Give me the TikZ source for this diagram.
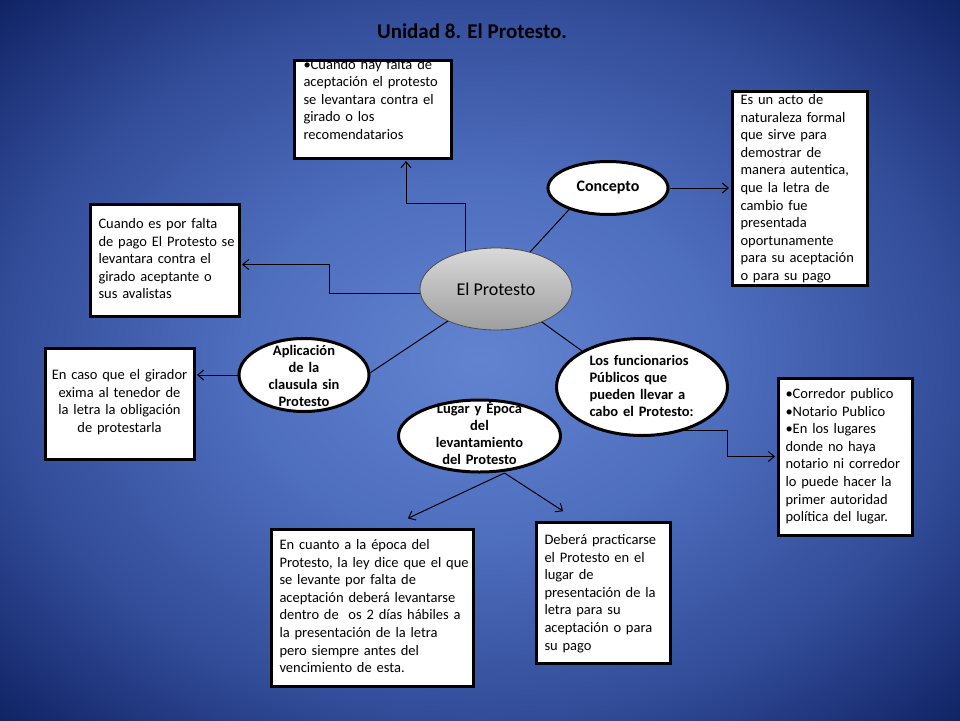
\documentclass[tikz,border=0pt]{standalone}
\usepackage{fontspec}
\setmainfont{Carlito}
\usetikzlibrary{arrows.meta,shapes.geometric}
\definecolor{bgin}{RGB}{98,132,208}
\definecolor{bgmid}{RGB}{78,110,190}
\definecolor{bgedge}{RGB}{50,76,152}
\definecolor{bgfar}{RGB}{34,56,128}
\definecolor{bgout}{RGB}{15,35,100}
\pgfdeclareradialshading{bgshade}{\pgfpoint{0bp}{0bp}}{color(0bp)=(bgin); color(12.5bp)=(bgmid); color(25bp)=(bgedge); color(30bp)=(bgfar); color(35.5bp)=(bgout); color(50bp)=(bgout)}
\pgfdeclarelayer{bg}
\pgfdeclarelayer{lines}
\pgfsetlayers{bg,lines,main}
\tikzset{
  tbox/.style={rectangle, draw=black, line width=3pt, fill=white, anchor=north west,
    inner ysep=0pt, align=left, font={\fontsize{14.5}{17.6}\selectfont}},
  ell/.style={ellipse, draw=black, line width=3pt, fill=white, inner sep=0pt,
    font={\bfseries\fontsize{14.5}{17.3}\selectfont}},
  arr/.style={black, line width=1pt, shorten >=1.5pt, -{Straight Barb[length=6pt,width=10pt]}},
  link/.style={black, line width=1pt}
}
\begin{document}
\begin{tikzpicture}[x=1pt,y=-1pt]
\begin{pgfonlayer}{bg}
\shade[shading=bgshade] (0,0) rectangle (960,720);
\end{pgfonlayer}
\useasboundingbox (0,0) rectangle (960,720);

% title
\node[font={\bfseries\fontsize{21}{25}\selectfont}, text=black] (title) at (472,31) {Unidad 8. El Protesto.};

% central node
\node[ellipse, draw=black!70, line width=0.8pt, top color=black!15, middle color=black!4, bottom color=black!38,
  minimum width=152pt, minimum height=82pt, inner sep=0pt, font={\fontsize{18}{21}\selectfont}] (ep) at (496,289) {El Protesto};

% ellipses
\node[ell, minimum width=120pt, minimum height=53pt, font={\bfseries\fontsize{16}{19}\selectfont}] (cn) at (608,188) {Concepto};
\node[ell, minimum width=130pt, minimum height=73pt, text width=90pt, align=center, text height=0pt, text depth=40pt] (ap) at (304,375)
  {Aplicación\\de la\\clausula sin\\Protesto};
\node[ell, minimum width=171pt, minimum height=97pt, text width=105pt, align=left, text height=0pt, text depth=44pt] (fp) at (642,387)
  {Los funcionarios\\Públicos que\\pueden llevar a\\cabo el Protesto:};
\node[ell, minimum width=162pt, minimum height=72pt, text width=100pt, align=center, text height=0pt, text depth=46pt] (lg) at (479.5,436)
  {Lugar y Época\\del\\levantamiento\\del Protesto};

% boxes
\node[tbox, inner xsep=9.5pt, text width=138pt, text height=9pt, text depth=89pt] (b1) at (292.5,58.5)
  {•Cuando hay falta de\\aceptación~el~protesto\\se levantara contra el\\girado o los\\recomendatarios};
\node[tbox, inner xsep=8.5pt, text width=118pt, text height=13.5pt, text depth=180.5pt] (b2) at (730.5,89.5)
  {Es un acto de\\naturaleza formal\\que sirve para\\demostrar de\\manera autentica,\\que la letra de\\cambio fue\\presentada\\oportunamente\\para~su~aceptación\\o para su pago};
\node[tbox, inner xsep=8.5pt, text width=132pt, text height=24.5pt, text depth=87.5pt] (b3) at (88.5,202.5)
  {Cuando~es~por~falta\\de~pago~El~Protesto~se\\levantara contra el\\girado aceptante o\\sus avalistas};
\node[tbox, inner xsep=6pt, text width=137pt, text height=31.5pt, text depth=79.5pt, align=center] (b4) at (43.5,346.5)
  {En~caso~que~el~girador\\exima al tenedor de\\la~letra~la~obligación\\de protestarla};
\node[tbox, inner xsep=7.5pt, text width=119pt, text height=20.5pt, text depth=136.5pt] (b5) at (776.5,376.5)
  {•Corredor publico\\•Notario Publico\\•En los lugares\\donde no haya\\notario~ni~corredor\\lo puede hacer la\\primer autoridad\\política del lugar.};
\node[tbox, inner xsep=8.5pt, text width=185pt, text height=20.5pt, text depth=136.5pt] (b6) at (269.5,527.5)
  {En cuanto a la época del\\Protesto,~la~ley~dice~que~el~que\\se levante por falta de\\aceptación~deberá~levantarse\\dentro~de\ \ os~2~días~hábiles~a\\la presentación de la letra\\pero siempre antes del\\vencimiento de esta.};
\node[tbox, inner xsep=8.5pt, text width=117pt, text height=22.5pt, text depth=118.5pt] (b7) at (534.5,520.5)
  {Deberá~practicarse\\el Protesto en el\\lugar de\\presentación~de~la\\letra para su\\aceptación o para\\su pago};

% connectors
\begin{pgfonlayer}{lines}
\draw[arr] ([xshift=-31pt]ep.center) -- ++(0,-86) -| ([xshift=33.5pt]b1.south);
\draw[arr] ([yshift=-4pt]ep.center) -- ++(-167,0) |- ([yshift=-4.5pt]b3.east);
\draw[link] (ep.center) -- (cn.209);
\draw[arr] (cn.east) -- (cn.east -| b2.west);
\draw[link] (ep.center) -- (ap.2);
\draw[arr] (ap.west) -- (ap.west -| b4.east);
\draw[link] (ep.center) -- (fp.149);
\draw[arr] ([xshift=36pt,yshift=-43pt]fp.center) -- ++(49,0) |- (b5.west);
\draw[arr] ([xshift=25pt,yshift=-37pt]lg.center) -- ([xshift=34.5pt,yshift=8.5pt]b6.north);
\draw[arr] ([xshift=25pt,yshift=-37pt]lg.center) -- ([xshift=-38.5pt,yshift=8.5pt]b7.north);
\end{pgfonlayer}
\end{tikzpicture}
\end{document}
